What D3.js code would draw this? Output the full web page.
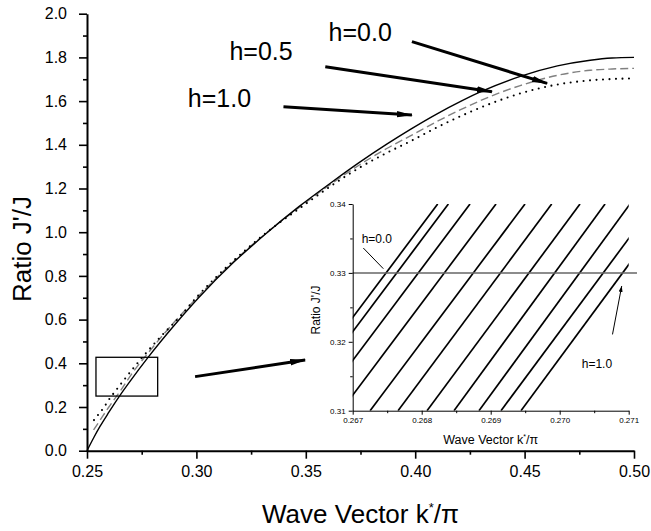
<!DOCTYPE html>
<html>
<head>
<meta charset="utf-8">
<script src="https://cdn.jsdelivr.net/npm/d3@7"></script>
<style>
  body { margin: 0; background: #fff; }
  svg { display: block; font-family: "Liberation Sans", Arial, sans-serif; }
</style>
</head>
<body>
<div id="chart"></div>
<script>
// main panel ticks
const xTicks = [0.25, 0.30, 0.35, 0.40, 0.45, 0.50];
const xMinorTicks = [0.275, 0.325, 0.375, 0.425, 0.475];
const yTicks = [0.0, 0.2, 0.4, 0.6, 0.8, 1.0, 1.2, 1.4, 1.6, 1.8, 2.0];
const yMinorTicks = [0.1, 0.3, 0.5, 0.7, 0.9, 1.1, 1.3, 1.5, 1.7, 1.9];

// J'/J against k*/pi
const curveH00 = [
  [0.250, 0.000], [0.253, 0.058], [0.256, 0.112], [0.260, 0.176], [0.265, 0.252],
  [0.270, 0.322], [0.278, 0.428], [0.290, 0.575], [0.301, 0.700], [0.317, 0.862],
  [0.332, 0.995], [0.347, 1.118], [0.362, 1.230], [0.375, 1.323], [0.387, 1.403],
  [0.398, 1.472], [0.410, 1.542], [0.421, 1.600], [0.430, 1.643], [0.448, 1.713],
  [0.465, 1.761], [0.480, 1.787], [0.490, 1.797], [0.500, 1.800]
];
const curveH05 = [
  [0.253, 0.095], [0.256, 0.140], [0.260, 0.200], [0.265, 0.270], [0.270, 0.345],
  [0.278, 0.448], [0.290, 0.590], [0.301, 0.708], [0.317, 0.866], [0.332, 0.997],
  [0.347, 1.114], [0.362, 1.224], [0.375, 1.311], [0.387, 1.383], [0.398, 1.442],
  [0.410, 1.507], [0.421, 1.562], [0.430, 1.603], [0.437, 1.632], [0.448, 1.671],
  [0.465, 1.718], [0.480, 1.741], [0.490, 1.747], [0.500, 1.750]
];
const curveH10 = [
  [0.2532, 0.140], [0.2556, 0.171], [0.2578, 0.199], [0.2597, 0.229], [0.2640, 0.286],
  [0.2663, 0.316], [0.2709, 0.374], [0.2758, 0.433], [0.2834, 0.519], [0.2918, 0.606],
  [0.301, 0.712], [0.317, 0.870], [0.332, 0.998], [0.347, 1.108], [0.362, 1.215],
  [0.375, 1.298], [0.387, 1.363], [0.398, 1.417], [0.410, 1.480], [0.421, 1.532],
  [0.430, 1.571], [0.437, 1.598], [0.448, 1.635], [0.465, 1.676], [0.480, 1.695],
  [0.490, 1.701], [0.500, 1.704]
];

// box marking the zoomed region
const zoomBoxK = [0.2541, 0.2823];
const zoomBoxJ = [0.250, 0.4275];

// inset ticks
const insetXTicks = [0.267, 0.268, 0.269, 0.270, 0.271];
const insetXMinor = [0.2675, 0.2685, 0.2695, 0.2705];
const insetYTicks = [0.31, 0.32, 0.33, 0.34];
const insetYMinor = [0.315, 0.325, 0.335];

// inset lines, h = 0.0 ... 1.0 : k*/pi where each line is at J'/J = 0.31 and 0.34
const insetH = [0.0, 0.1, 0.2, 0.3, 0.4, 0.5, 0.6, 0.7, 0.8, 0.9, 1.0];
const insetKAt031 = [0.265986, 0.266141, 0.266454, 0.266831, 0.267252, 0.267657,
                     0.268077, 0.268468, 0.268830, 0.269149, 0.269439];
const insetKAt034 = [0.268232, 0.268387, 0.268700, 0.269077, 0.269497, 0.269884,
                     0.270294, 0.270657, 0.271019, 0.271372, 0.271648];
const insetLevel = 0.33;
const insetLevelK = [0.267, 0.27112];

// annotations (data units)
const mainNotes = [
  { text: "h=0.0", at: [0.3604, 1.877], from: [0.3985, 1.872], to: [0.4603, 1.681] },
  { text: "h=0.5", at: [0.3151, 1.788], from: [0.3589, 1.757], to: [0.4351, 1.643] },
  { text: "h=1.0", at: [0.2961, 1.574], from: [0.3398, 1.574], to: [0.3985, 1.536] }
];
const boxArrow = { from: [0.2994, 0.339], to: [0.3497, 0.415] };
const insetNotes = [
  { text: "h=0.0", at: [0.267130, 0.33430], from: [0.267154, 0.33361], to: [0.267444, 0.33061], head: false },
  { text: "h=1.0", at: [0.270319, 0.31615], from: [0.270765, 0.32107], to: [0.270899, 0.32810], head: true }
];

const width = 651;
const height = 531;

const svg = d3.select("#chart").append("svg")
  .attr("width", width)
  .attr("height", height);

const defs = svg.append("defs");
defs.append("marker")
  .attr("id", "head")
  .attr("markerUnits", "userSpaceOnUse")
  .attr("markerWidth", 16).attr("markerHeight", 8)
  .attr("refX", 15).attr("refY", 4)
  .attr("orient", "auto")
  .append("path").attr("d", "M0,0.8 L16,4 L0,7.2 Z").attr("fill", "#000");
defs.append("marker")
  .attr("id", "smallhead")
  .attr("markerUnits", "userSpaceOnUse")
  .attr("markerWidth", 6).attr("markerHeight", 4)
  .attr("refX", 6).attr("refY", 2)
  .attr("orient", "auto")
  .append("path").attr("d", "M0,0 L6,2 L0,4 Z").attr("fill", "#000");

const x = d3.scaleLinear().domain([0.25, 0.5]).range([87, 634]);
const y = d3.scaleLinear().domain([0, 2]).range([450.7, 13.7]);

// axes
const xAxis = svg.append("g")
  .attr("transform", `translate(0,${y(0)})`)
  .call(d3.axisBottom(x).tickValues(xTicks).tickFormat(d3.format(".2f"))
    .tickSize(8).tickSizeOuter(0).tickPadding(7));
svg.append("g")
  .attr("transform", `translate(0,${y(0)})`)
  .call(d3.axisBottom(x).tickValues(xMinorTicks).tickFormat("").tickSize(4).tickSizeOuter(0))
  .call((g) => g.select(".domain").remove());

const yAxis = svg.append("g")
  .attr("transform", `translate(${x(0.25)},0)`)
  .call(d3.axisLeft(y).tickValues(yTicks).tickFormat(d3.format(".1f"))
    .tickSize(8).tickSizeOuter(0).tickPadding(12));
svg.append("g")
  .attr("transform", `translate(${x(0.25)},0)`)
  .call(d3.axisLeft(y).tickValues(yMinorTicks).tickFormat("").tickSize(4).tickSizeOuter(0))
  .call((g) => g.select(".domain").remove());

svg.selectAll(".domain").attr("stroke", "#000").attr("stroke-width", 2);
svg.selectAll(".tick line").attr("stroke", "#000").attr("stroke-width", 1.6);
[xAxis, yAxis].forEach((g) =>
  g.selectAll(".tick text")
    .attr("font-size", "16px")
    .attr("font-family", "Liberation Sans, Arial, sans-serif")
    .attr("fill", "#000")
);

// axis titles
svg.append("text")
  .attr("transform", `translate(31,249) rotate(-90)`)
  .attr("text-anchor", "middle")
  .attr("font-size", "26px")
  .text("Ratio J'/J");

const xTitle = svg.append("text")
  .attr("x", (x(0.25) + x(0.5)) / 2)
  .attr("y", 523)
  .attr("text-anchor", "middle")
  .attr("font-size", "26px");
xTitle.append("tspan").text("Wave Vector k");
xTitle.append("tspan").attr("dy", -11).attr("font-size", "13px").text("*");
xTitle.append("tspan").attr("dy", 11).text("/\u03c0");

// curves
const line = d3.line()
  .x((d) => x(d[0]))
  .y((d) => y(d[1]))
  .curve(d3.curveMonotoneX);

svg.append("path").datum(curveH05)
  .attr("fill", "none").attr("stroke", "#808080").attr("stroke-width", 1.4)
  .attr("stroke-dasharray", "8,4").attr("d", line);
svg.append("path").datum(curveH10)
  .attr("fill", "none").attr("stroke", "#000").attr("stroke-width", 2.1)
  .attr("stroke-linecap", "round")
  .attr("stroke-dasharray", "0,6.5").attr("d", line);
svg.append("path").datum(curveH00)
  .attr("fill", "none").attr("stroke", "#000").attr("stroke-width", 1.4)
  .attr("d", line);

// zoom box
svg.append("rect")
  .attr("x", x(zoomBoxK[0]))
  .attr("y", y(zoomBoxJ[1]))
  .attr("width", x(zoomBoxK[1]) - x(zoomBoxK[0]))
  .attr("height", y(zoomBoxJ[0]) - y(zoomBoxJ[1]))
  .attr("fill", "none").attr("stroke", "#000").attr("stroke-width", 1.3);

// labels and arrows
mainNotes.forEach((n) => {
  svg.append("text")
    .attr("x", x(n.at[0])).attr("y", y(n.at[1]))
    .attr("font-size", "25px")
    .text(n.text);
  svg.append("line")
    .attr("x1", x(n.from[0])).attr("y1", y(n.from[1]))
    .attr("x2", x(n.to[0])).attr("y2", y(n.to[1]))
    .attr("stroke", "#000").attr("stroke-width", 3)
    .attr("marker-end", "url(#head)");
});
svg.append("line")
  .attr("x1", x(boxArrow.from[0])).attr("y1", y(boxArrow.from[1]))
  .attr("x2", x(boxArrow.to[0])).attr("y2", y(boxArrow.to[1]))
  .attr("stroke", "#000").attr("stroke-width", 3)
  .attr("marker-end", "url(#head)");

// inset
const ix = d3.scaleLinear().domain([0.267, 0.271]).range([352.7, 628.7]);
const iy = d3.scaleLinear().domain([0.31, 0.34]).range([410.7, 204]);

const inset = svg.append("g");

defs.append("clipPath").attr("id", "insetClip")
  .append("rect")
  .attr("x", ix(0.267)).attr("y", iy(0.34))
  .attr("width", ix(0.271) - ix(0.267))
  .attr("height", iy(0.31) - iy(0.34));

inset.append("g")
  .attr("clip-path", "url(#insetClip)")
  .selectAll("line")
  .data(insetH)
  .join("line")
  .attr("x1", (d, i) => ix(insetKAt031[i]))
  .attr("y1", iy(0.31))
  .attr("x2", (d, i) => ix(insetKAt034[i]))
  .attr("y2", iy(0.34))
  .attr("stroke", "#000")
  .attr("stroke-width", 1.7);

inset.append("line")
  .attr("x1", ix(insetLevelK[0])).attr("y1", iy(insetLevel))
  .attr("x2", ix(insetLevelK[1])).attr("y2", iy(insetLevel))
  .attr("stroke", "#666").attr("stroke-width", 1.5);

const ixAxis = inset.append("g")
  .attr("transform", `translate(0,${iy(0.31)})`)
  .call(d3.axisBottom(ix).tickValues(insetXTicks).tickFormat(d3.format(".3f"))
    .tickSize(4).tickSizeOuter(0).tickPadding(3));
inset.append("g")
  .attr("transform", `translate(0,${iy(0.31)})`)
  .call(d3.axisBottom(ix).tickValues(insetXMinor).tickFormat("").tickSize(2.5).tickSizeOuter(0))
  .call((g) => g.select(".domain").remove());
const iyAxis = inset.append("g")
  .attr("transform", `translate(${ix(0.267)},0)`)
  .call(d3.axisLeft(iy).tickValues(insetYTicks).tickFormat(d3.format(".2f"))
    .tickSize(4).tickSizeOuter(0).tickPadding(3));
inset.append("g")
  .attr("transform", `translate(${ix(0.267)},0)`)
  .call(d3.axisLeft(iy).tickValues(insetYMinor).tickFormat("").tickSize(2.5).tickSizeOuter(0))
  .call((g) => g.select(".domain").remove());

inset.selectAll(".domain").attr("stroke", "#000").attr("stroke-width", 1);
inset.selectAll(".tick line").attr("stroke", "#000").attr("stroke-width", 1);
[ixAxis, iyAxis].forEach((g) =>
  g.selectAll(".tick text")
    .attr("font-size", "8px")
    .attr("font-family", "Liberation Sans, Arial, sans-serif")
    .attr("fill", "#000")
);

inset.append("text")
  .attr("transform", `translate(320,310) rotate(-90)`)
  .attr("text-anchor", "middle")
  .attr("font-size", "12px")
  .text("Ratio J'/J");

const ixTitle = inset.append("text")
  .attr("x", (ix(0.267) + ix(0.271)) / 2)
  .attr("y", 444)
  .attr("text-anchor", "middle")
  .attr("font-size", "12.5px");
ixTitle.append("tspan").text("Wave Vector k");
ixTitle.append("tspan").attr("dy", -5).attr("font-size", "7px").text("*");
ixTitle.append("tspan").attr("dy", 5).text("/\u03c0");

insetNotes.forEach((n) => {
  inset.append("text")
    .attr("x", ix(n.at[0])).attr("y", iy(n.at[1]))
    .attr("font-size", "12px")
    .text(n.text);
  inset.append("line")
    .attr("x1", ix(n.from[0])).attr("y1", iy(n.from[1]))
    .attr("x2", ix(n.to[0])).attr("y2", iy(n.to[1]))
    .attr("stroke", "#000").attr("stroke-width", 1)
    .attr("marker-end", n.head ? "url(#smallhead)" : null);
});
</script>
</body>
</html>
